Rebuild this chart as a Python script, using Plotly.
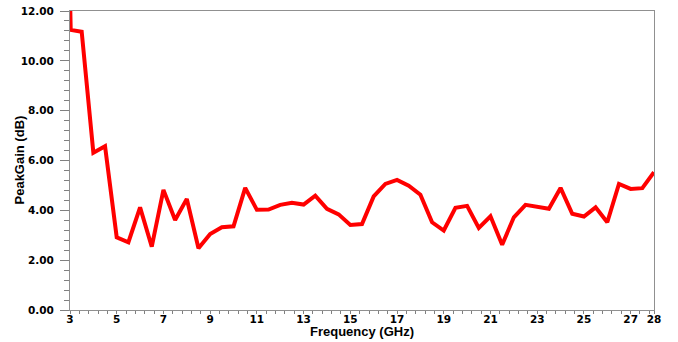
import plotly.graph_objects as go

freq_ghz = [3.0, 3.03, 3.5, 4.0, 4.5, 5.0, 5.5, 6.0, 6.5, 7.0, 7.5, 8.0, 8.5, 9.0, 9.5,
            10.0, 10.5, 11.0, 11.5, 12.0, 12.5, 13.0, 13.5, 14.0, 14.5, 15.0, 15.5,
            16.0, 16.5, 17.0, 17.5, 18.0, 18.5, 19.0, 19.5, 20.0, 20.5, 21.0, 21.5,
            22.0, 22.5, 23.0, 23.5, 24.0, 24.5, 25.0, 25.5, 26.0, 26.5, 27.0, 27.5, 28.0]
peak_gain_db = [12.6, 11.24, 11.17, 6.31, 6.57, 2.92, 2.72, 4.12, 2.54, 4.82, 3.61, 4.46, 2.48,
                3.05, 3.32, 3.36, 4.90, 4.02, 4.03, 4.22, 4.30, 4.23, 4.59, 4.06, 3.84,
                3.41, 3.45, 4.56, 5.06, 5.22, 4.99, 4.63, 3.52, 3.19, 4.10, 4.18, 3.29,
                3.76, 2.62, 3.72, 4.22, 4.12, 4.06, 4.90, 3.86, 3.75, 4.12, 3.52, 5.06,
                4.86, 4.89, 5.53]

x_tickvals = [3, 5, 7, 9, 11, 13, 15, 17, 19, 21, 23, 25, 27, 28]
x_ticktext = [str(v) for v in x_tickvals]
x_title = "Frequency (GHz)"
y_title = "PeakGain (dB)"

tick_font = dict(family="DejaVu Sans", size=10.5, color="black", weight="bold")
title_font = dict(family="Liberation Sans, Arial, sans-serif", size=13, color="black", weight="bold")

fig = go.Figure()
fig.add_trace(go.Scatter(
    x=freq_ghz, y=peak_gain_db, mode="lines",
    line=dict(color="#ff0000", width=4),
    showlegend=False,
))

fig.update_layout(
    width=678, height=342,
    margin=dict(l=70, r=24, t=11, b=32, autoexpand=False),
    paper_bgcolor="white", plot_bgcolor="white",
    font=dict(family="Liberation Sans, Arial, sans-serif", size=12, color="black"),
)

fig.update_xaxes(
    range=[3, 28], automargin=False,
    tickvals=x_tickvals, ticktext=x_ticktext,
    tickfont=tick_font,
    ticks="outside", ticklen=3, tickcolor="#808080",
    minor=dict(tick0=3, dtick=0.4, ticks="outside", ticklen=3, tickcolor="#808080"),
    showgrid=False, zeroline=False, ticklabelstandoff=-4,
    ticklabeloverflow="allow",
    showline=True, linecolor="#909090", linewidth=1, mirror=True,
)

fig.update_yaxes(
    range=[0, 12], automargin=False,
    dtick=2, tick0=0, tickformat=".2f",
    tickfont=tick_font,
    ticks="outside", ticklen=9, tickcolor="#808080",
    minor=dict(tick0=0, dtick=0.4, ticks="outside", ticklen=5, tickcolor="#808080"),
    showgrid=False, zeroline=False, ticklabelstandoff=4,
    ticklabeloverflow="allow",
    showline=True, linecolor="#909090", linewidth=1, mirror=True,
)

fig.add_annotation(
    text=x_title, xref="paper", yref="paper", x=(362 - 70) / 584, y=(310 - 331) / 299,
    showarrow=False, xanchor="center", yanchor="middle", font=title_font,
    borderpad=0,
)
fig.add_annotation(
    text=y_title, xref="paper", yref="paper", x=(19 - 70) / 584, y=(310 - 160.5) / 299,
    showarrow=False, xanchor="center", yanchor="middle", textangle=-90, font=title_font,
    borderpad=0,
)

fig.write_html("out.html", config={"displayModeBar": False},
               post_script="document.body.style.margin='0px';")
